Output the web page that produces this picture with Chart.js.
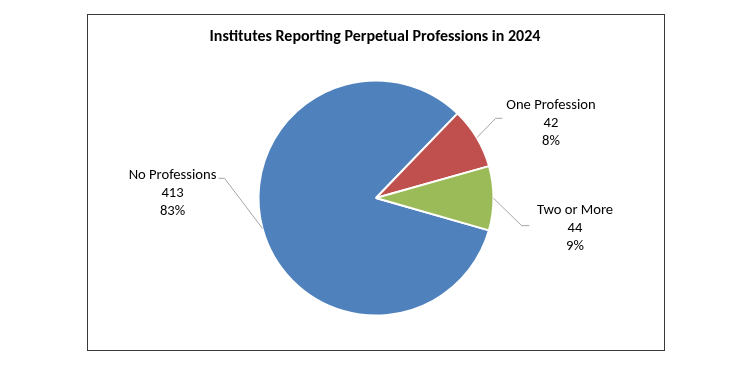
<!DOCTYPE html>
<html>
<head>
<meta charset="utf-8">
<script src="https://cdn.jsdelivr.net/npm/chart.js@4/dist/chart.umd.min.js"></script>
<style>
html,body{margin:0;padding:0;background:#fff;}
#wrap{position:relative;width:750px;height:379px;}
</style>
</head>
<body>
<div id="wrap"><canvas id="c" width="750" height="379"></canvas></div>
<script>
const chartTitle = "Institutes Reporting Perpetual Professions in 2024";
const categories = ["No Professions", "One Profession", "Two or More"];
const counts = [413, 42, 44];
const percentLabels = ["83%", "8%", "9%"];
const sliceColors = ["#4F81BD", "#C0504D", "#9BBB59"];

// label placement (offset of label block centre from pie centre) and leader attach (relative to label centre)
const labelOffsets = [[-203.5, -5], [175, -75], [199, 30]];
const leaderAttach = [[46, -14.7], [-48.6, -4.7], [-45.7, -2.3]];
const elbowDx = [6, -6.7, -7.6];

const FONT = "Carlito, Calibri, Lato, 'Liberation Sans', sans-serif";

const decor = {
  id: 'decor',
  beforeDraw(chart) {
    const ctx = chart.ctx;
    ctx.save();
    ctx.fillStyle = '#fff';
    ctx.fillRect(0, 0, chart.width, chart.height);
    ctx.strokeStyle = '#3a3a3a';
    ctx.lineWidth = 1;
    ctx.strokeRect(87.5, 14.5, 577, 336);
    ctx.fillStyle = '#000';
    ctx.font = "bold 16px " + FONT;
    ctx.textAlign = 'center';
    ctx.textBaseline = 'alphabetic';
    ctx.fillText(chartTitle, 375, 41);
    ctx.restore();
  },
  afterDatasetsDraw(chart) {
    const ctx = chart.ctx;
    const meta = chart.getDatasetMeta(0);
    ctx.save();
    meta.data.forEach((arc, i) => {
      const p = arc.getProps(['x', 'y', 'startAngle', 'endAngle', 'outerRadius'], true);
      const mid = (p.startAngle + p.endAngle) / 2;
      const ex = p.x + Math.cos(mid) * p.outerRadius;
      const ey = p.y + Math.sin(mid) * p.outerRadius;
      const lx = p.x + labelOffsets[i][0];
      const ly = p.y + labelOffsets[i][1];
      const ax = lx + leaderAttach[i][0];
      const ay = ly + leaderAttach[i][1];
      ctx.strokeStyle = '#A6A6A6';
      ctx.lineWidth = 1;
      ctx.beginPath();
      ctx.moveTo(ex, ey);
      ctx.lineTo(ax + elbowDx[i], ay);
      ctx.lineTo(ax, ay);
      ctx.stroke();
      ctx.fillStyle = '#000';
      ctx.font = "14.6px " + FONT;
      ctx.textAlign = 'center';
      ctx.textBaseline = 'middle';
      const lines = [categories[i], String(counts[i]), percentLabels[i]];
      lines.forEach((t, k) => ctx.fillText(t, lx, ly + (k - 1) * 18));
    });
    ctx.restore();
  }
};

new Chart(document.getElementById('c'), {
  type: 'pie',
  data: {
    labels: categories,
    datasets: [{
      data: counts,
      backgroundColor: sliceColors,
      borderColor: '#ffffff',
      borderWidth: 2,
      hoverOffset: 0
    }]
  },
  options: {
    responsive: false,
    animation: false,
    rotation: 106,
    layout: { padding: { top: 79.5, bottom: 62.5, left: 257.5, right: 255.5 } },
    plugins: {
      legend: { display: false },
      title: { display: false },
      tooltip: { enabled: false }
    }
  },
  plugins: [decor]
});
</script>
</body>
</html>
